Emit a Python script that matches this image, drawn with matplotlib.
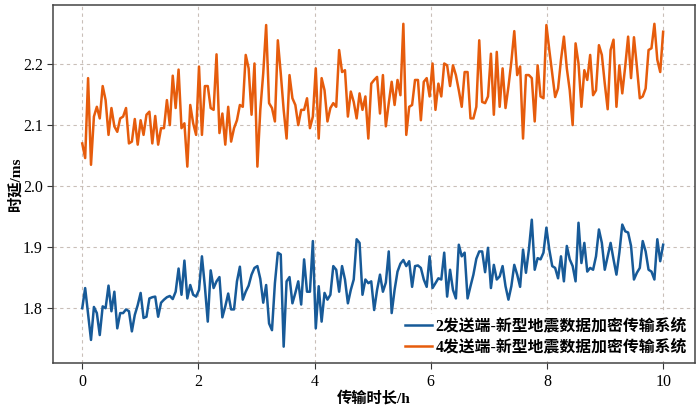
import numpy as np
import matplotlib
matplotlib.use("Agg")
import matplotlib.pyplot as plt

plt.rcParams['font.family'] = ['Liberation Serif', 'Noto Sans CJK SC', 'DejaVu Sans']

# latency in ms (0.05 h steps)
delay_2 = [
    1.800, 1.833, 1.790, 1.748, 1.802, 1.792, 1.756, 1.803, 1.800, 1.837,
    1.795, 1.827, 1.767, 1.792, 1.792, 1.798, 1.795, 1.762, 1.789, 1.805,
    1.825, 1.784, 1.786, 1.816, 1.818, 1.819, 1.786, 1.809, 1.814, 1.818,
    1.820, 1.815, 1.827, 1.865, 1.822, 1.878, 1.816, 1.838, 1.822, 1.819,
    1.830, 1.885, 1.836, 1.778, 1.862, 1.833, 1.844, 1.851, 1.785, 1.803,
    1.824, 1.798, 1.798, 1.844, 1.868, 1.814, 1.827, 1.837, 1.855, 1.866,
    1.869, 1.848, 1.809, 1.838, 1.775, 1.764, 1.841, 1.891,
    1.888, 1.737, 1.844, 1.851, 1.808, 1.825, 1.844, 1.806, 1.880, 1.827,
    1.827, 1.910, 1.767, 1.836, 1.778, 1.825, 1.814, 1.822, 1.869, 1.863,
    1.827, 1.869, 1.847, 1.808, 1.830, 1.847, 1.913, 1.907, 1.822, 1.847,
    1.841, 1.844, 1.797, 1.830, 1.855, 1.827, 1.842, 1.893, 1.792, 1.830,
    1.860, 1.873, 1.879, 1.869, 1.877, 1.835, 1.869, 1.870, 1.866, 1.847,
    1.835, 1.885, 1.833, 1.841, 1.849, 1.847, 1.891, 1.819, 1.863, 1.830,
    1.816, 1.904, 1.885, 1.891, 1.816, 1.836, 1.855, 1.881, 1.893,
    1.893, 1.859, 1.899, 1.833, 1.871, 1.847, 1.852, 1.869, 1.836, 1.814,
    1.836, 1.871, 1.855, 1.835, 1.896, 1.858, 1.896, 1.945, 1.863, 1.882,
    1.880, 1.891, 1.932, 1.896, 1.869, 1.866, 1.849, 1.885, 1.844, 1.902,
    1.880, 1.869, 1.844, 1.940, 1.874, 1.907, 1.860, 1.866, 1.863, 1.885,
    1.929, 1.907, 1.863, 1.885, 1.907, 1.880, 1.855, 1.891, 1.937, 1.926,
    1.924, 1.902, 1.847, 1.858, 1.866, 1.910, 1.893, 1.863, 1.860, 1.847,
    1.913, 1.877, 1.904,
]

delay_4 = [
    2.070, 2.046, 2.177, 2.035, 2.114, 2.130, 2.111, 2.164, 2.141, 2.084,
    2.128, 2.098, 2.089, 2.111, 2.114, 2.128, 2.070, 2.073, 2.110, 2.068,
    2.108, 2.084, 2.117, 2.122, 2.070, 2.115, 2.068, 2.095, 2.095, 2.141,
    2.100, 2.181, 2.128, 2.191, 2.095, 2.103, 2.032, 2.133, 2.103, 2.084,
    2.196, 2.084, 2.164, 2.164, 2.128, 2.125, 2.216, 2.087, 2.119, 2.068,
    2.130, 2.073, 2.095, 2.108, 2.133, 2.130, 2.215, 2.193, 2.117, 2.201,
    2.032, 2.125, 2.185, 2.264, 2.136, 2.128, 2.106, 2.239,
    2.185, 2.125, 2.078, 2.182, 2.144, 2.133, 2.100, 2.125, 2.125, 2.144,
    2.095, 2.114, 2.193, 2.078, 2.177, 2.157, 2.106, 2.128, 2.136, 2.130,
    2.223, 2.187, 2.190, 2.114, 2.155, 2.138, 2.111, 2.152, 2.125, 2.147,
    2.078, 2.168, 2.174, 2.179, 2.119, 2.182, 2.098, 2.136, 2.171, 2.133,
    2.174, 2.149, 2.266, 2.084, 2.130, 2.133, 2.174, 2.174, 2.108, 2.171,
    2.177, 2.147, 2.201, 2.125, 2.168, 2.147, 2.201, 2.198, 2.164, 2.198,
    2.182, 2.157, 2.130, 2.187, 2.187, 2.111, 2.111, 2.130, 2.239,
    2.138, 2.136, 2.147, 2.217, 2.117, 2.220, 2.130, 2.193, 2.128, 2.163,
    2.204, 2.254, 2.182, 2.196, 2.078, 2.182, 2.182, 2.177, 2.106, 2.198,
    2.147, 2.144, 2.264, 2.223, 2.185, 2.146, 2.160, 2.207, 2.245, 2.193,
    2.157, 2.100, 2.234, 2.201, 2.130, 2.190, 2.174, 2.215, 2.149, 2.157,
    2.231, 2.215, 2.168, 2.126, 2.223, 2.240, 2.130, 2.198, 2.152, 2.196,
    2.245, 2.177, 2.244, 2.196, 2.144, 2.147, 2.160, 2.223, 2.226, 2.266,
    2.207, 2.187, 2.253,
]

hours_2 = np.linspace(0, 10, len(delay_2))
hours_4 = np.linspace(0, 10, len(delay_4))

label_2 = "2发送端-新型地震数据加密传输系统"
label_4 = "4发送端-新型地震数据加密传输系统"

fig = plt.figure(figsize=(7, 4.08), dpi=100)
ax = fig.add_axes([0.076, 0.11, 0.917, 0.878])

ax.plot(hours_2, delay_2, color='#175a98', lw=1.8, label=label_2)
ax.plot(hours_4, delay_4, color='#e65c0c', lw=1.8, label=label_4)

ax.set_xlim(-0.5, 10.55)
ax.set_ylim(1.71, 2.297)
ax.set_xticks([0, 2, 4, 6, 8, 10])
ax.set_yticks([1.8, 1.9, 2.0, 2.1, 2.2])
ax.grid(True, ls=(0, (3, 3)), color='#c9bfb8', lw=0.8)
ax.tick_params(labelsize=11.5, direction='out', length=4, color='#333333')
for s in ax.spines.values():
    s.set_color('#444444')
    s.set_linewidth(1.1)

ax.set_xlabel("传输时长/h", fontsize=11, fontweight='bold', labelpad=1)
ax.set_ylabel("时延/ms", fontsize=11, fontweight='bold', labelpad=0)

leg = ax.legend(loc='lower right', prop={'size': 11.4, 'weight': 'bold'},
                frameon=True, framealpha=1, edgecolor='white', fancybox=False,
                handlelength=1.7, handletextpad=0.25,
                borderaxespad=0.2, borderpad=0.3, labelspacing=0.3)

fig.savefig("out.png", dpi=100)
